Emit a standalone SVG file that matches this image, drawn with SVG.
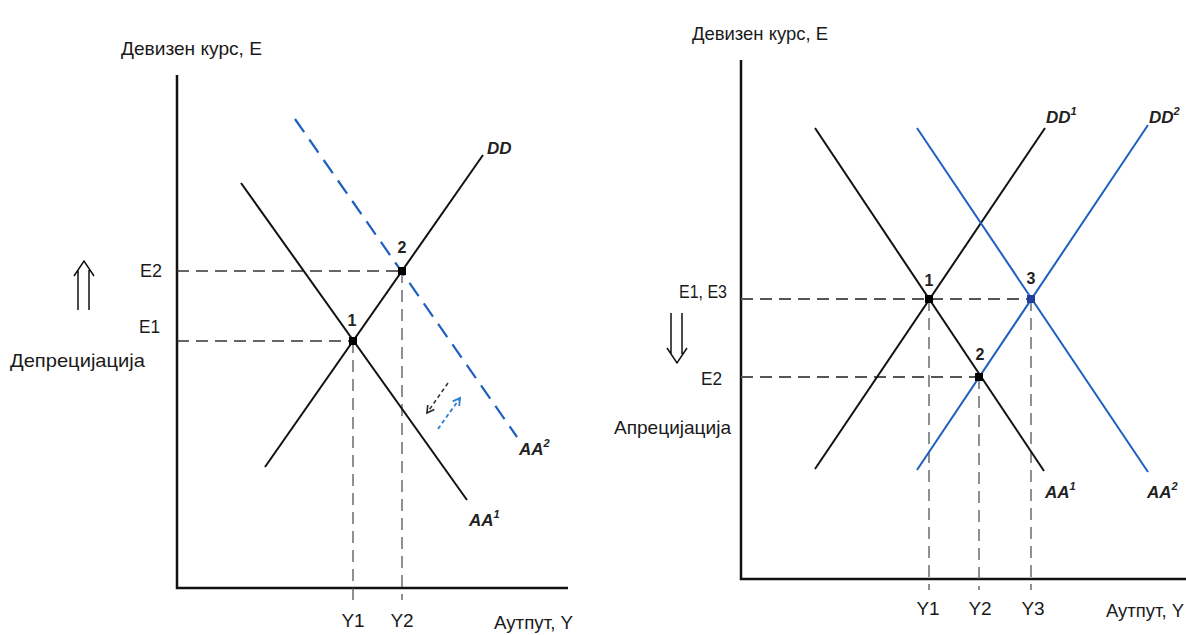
<svg xmlns="http://www.w3.org/2000/svg" width="1186" height="635" viewBox="0 0 1186 635">
<style>
text{font-family:"Liberation Sans",Arial,sans-serif;fill:#1a1a1a}
.lbl{font-size:19px}
.num{font-size:16px;font-weight:bold;fill:#222}
.curve{font-size:17px;font-style:italic;font-weight:bold;fill:#222}
.sup{font-size:11px}
.axis{stroke:#111;stroke-width:2.5;fill:none}
.blk{stroke:#111;stroke-width:2;fill:none}
.blu{stroke:#1f5fbf;stroke-width:2;fill:none}
.dash{stroke:#333;stroke-width:1.6;stroke-dasharray:12 7;fill:none}
.dashv{stroke:#555;stroke-width:1.3;stroke-dasharray:12 7;fill:none}
.dashr{stroke:#555;stroke-width:1.8;stroke-dasharray:12 7;fill:none}
.bluedash{stroke:#1f5fbf;stroke-width:2.2;stroke-dasharray:16 9;fill:none}
.dbl{stroke:#111;stroke-width:1.5;fill:none}
</style>
<defs>
<marker id="hk" markerWidth="10" markerHeight="10" refX="8" refY="5" orient="auto" markerUnits="userSpaceOnUse"><path d="M1,1 L8,5 L1,9" fill="none" stroke="#222" stroke-width="1.6"/></marker>
<marker id="hb" markerWidth="10" markerHeight="10" refX="8" refY="5" orient="auto" markerUnits="userSpaceOnUse"><path d="M1,1 L8,5 L1,9" fill="none" stroke="#2a7fd0" stroke-width="1.8"/></marker>
</defs>

<!-- LEFT GRAPH -->
<g id="left-axes">
<path class="axis" d="M177,75 V588 H568"/>
</g>
<g id="connectors-left">
<path class="dash" d="M177,271 H402"/>
<path class="dash" d="M177,341 H353"/>
<path class="dashv" d="M353,341 V600"/>
<path class="dashv" d="M402,271 V600"/>
<path d="M448,383 L427,413" stroke="#333" stroke-width="1.5" stroke-dasharray="4 3" fill="none" marker-end="url(#hk)"/>
<path d="M438,429 L460,398" stroke="#2a7fd0" stroke-width="1.8" stroke-dasharray="4 3" fill="none" marker-end="url(#hb)"/>
</g>
<g id="left-DD"><path class="blk" d="M265,467 L483,155"/><text class="curve" x="487" y="154">DD</text></g>
<g id="left-AA1"><path class="blk" d="M241,183 L467,500"/><text class="curve" x="469" y="526">AA<tspan class="sup" dy="-8">1</tspan></text></g>
<g id="left-AA2"><path class="bluedash" d="M295,119 L517,437"/><text class="curve" x="519" y="455">AA<tspan class="sup" dy="-8">2</tspan></text></g>
<g id="left-p1"><rect x="349" y="337" width="8" height="8" fill="#000"/><text class="num" x="352" y="326" text-anchor="middle">1</text></g>
<g id="left-p2"><rect x="398" y="267" width="8" height="8" fill="#000"/><text class="num" x="402" y="253" text-anchor="middle">2</text></g>
<g id="left-labels">
<text class="lbl" x="121" y="55" textLength="141" lengthAdjust="spacingAndGlyphs">Девизен курс, Е</text>
<text class="lbl" x="140" y="277" textLength="22" lengthAdjust="spacingAndGlyphs">E2</text>
<text class="lbl" x="139" y="333" textLength="21" lengthAdjust="spacingAndGlyphs">E1</text>
<text class="lbl" x="10" y="367" textLength="135" lengthAdjust="spacingAndGlyphs">Депрецијација</text>
<text class="lbl" x="353" y="627" text-anchor="middle">Y1</text>
<text class="lbl" x="402" y="627" text-anchor="middle">Y2</text>
<text class="lbl" x="494" y="629" textLength="79" lengthAdjust="spacingAndGlyphs">Аутпут, Y</text>
<path class="dbl" d="M78,310 V270 M89,310 V270 M74,276 L84,261 L94,276"/>
</g>

<!-- RIGHT GRAPH -->
<g id="right-axes">
<path class="axis" d="M741,60 V579 H1186"/>
</g>
<g id="connectors-right">
<path class="dashr" d="M741,299 H1031"/>
<path class="dashr" d="M741,377 H979"/>
<path class="dashv" d="M929,299 V590"/>
<path class="dashv" d="M979,377 V590"/>
<path class="dashv" d="M1031,299 V590"/>
</g>
<g id="right-DD1"><path class="blk" d="M815,469 L1045,128"/><text class="curve" x="1046" y="123">DD<tspan class="sup" dy="-8">1</tspan></text></g>
<g id="right-AA1"><path class="blk" d="M815,128 L1044,471"/><text class="curve" x="1045" y="498">AA<tspan class="sup" dy="-8">1</tspan></text></g>
<g id="right-DD2"><path class="blu" d="M917,470 L1148,125"/><text class="curve" x="1149" y="123">DD<tspan class="sup" dy="-8">2</tspan></text></g>
<g id="right-AA2"><path class="blu" d="M917,128 L1148,472"/><text class="curve" x="1147" y="498">AA<tspan class="sup" dy="-8">2</tspan></text></g>
<g id="right-p1"><rect x="925" y="295" width="8" height="8" fill="#000"/><text class="num" x="929" y="286" text-anchor="middle">1</text></g>
<g id="right-p2"><rect x="975" y="373" width="8" height="8" fill="#000"/><text class="num" x="980" y="360" text-anchor="middle">2</text></g>
<g id="right-p3"><rect x="1027" y="295" width="8" height="8" fill="#1f3f9f"/><text class="num" x="1031" y="284" text-anchor="middle">3</text></g>
<g id="right-labels">
<text class="lbl" x="692" y="40" textLength="136" lengthAdjust="spacingAndGlyphs">Девизен курс, Е</text>
<text class="lbl" x="679" y="298" textLength="48" lengthAdjust="spacingAndGlyphs">E1, E3</text>
<text class="lbl" x="701" y="385" textLength="21" lengthAdjust="spacingAndGlyphs">E2</text>
<text class="lbl" x="614" y="434" textLength="117" lengthAdjust="spacingAndGlyphs">Апрецијација</text>
<text class="lbl" x="928" y="615" text-anchor="middle">Y1</text>
<text class="lbl" x="980" y="615" text-anchor="middle">Y2</text>
<text class="lbl" x="1033" y="615" text-anchor="middle">Y3</text>
<text class="lbl" x="1106" y="617" textLength="78" lengthAdjust="spacingAndGlyphs">Аутпут, Y</text>
<path class="dbl" d="M671,313 V354 M682,313 V354 M667,348 L677,363 L687,348"/>
</g>
</svg>
